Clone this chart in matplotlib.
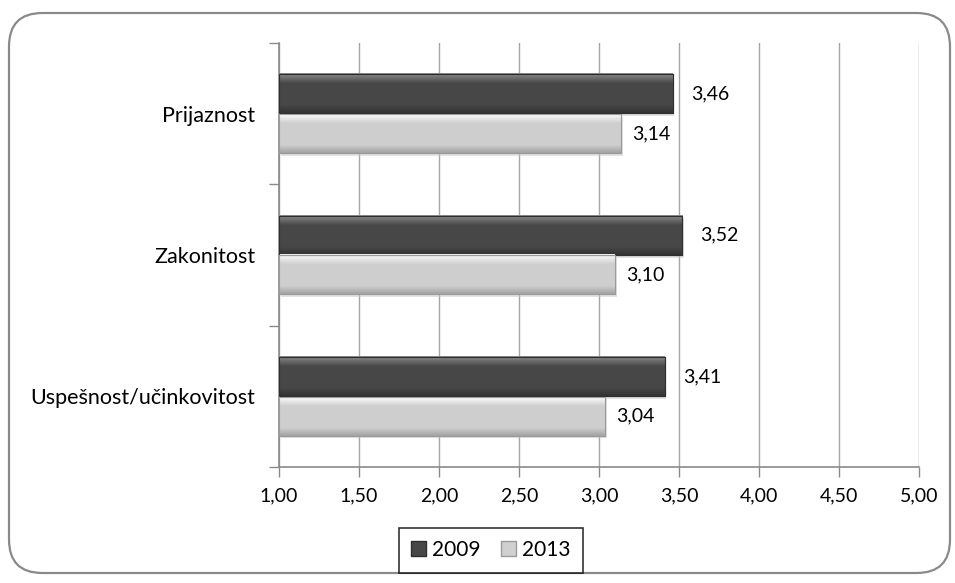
import matplotlib
matplotlib.use("Agg")
import matplotlib.pyplot as plt
from matplotlib.patches import FancyBboxPatch, Patch
import numpy as np

categories = ["Prijaznost", "Zakonitost", "Uspešnost/učinkovitost"]
vals_2009 = [3.46, 3.52, 3.41]
vals_2013 = [3.14, 3.10, 3.04]
series_names = ["2009", "2013"]
xticks = [1.0, 1.5, 2.0, 2.5, 3.0, 3.5, 4.0, 4.5, 5.0]

plt.rcParams['font.family'] = ['Lato', 'DejaVu Sans']

W, H = 955, 583
fig = plt.figure(figsize=(W/100, H/100), dpi=100)
fig.patch.set_facecolor('white')

# rounded frame
frame = FancyBboxPatch((9/W, 10/H), (950-9)/W, (570-10)/H,
                       boxstyle="round,pad=0,rounding_size=0.035",
                       transform=fig.transFigure, facecolor='none',
                       edgecolor='#8a8a8a', linewidth=1.6, mutation_aspect=W/H)
fig.patches.append(frame)

ax = fig.add_axes([279/W, 1-467/H, (919-279)/W, (467-43)/H])

n = len(categories)
y = np.arange(n)[::-1].astype(float)  # top category first
bh = 0.276
off = 0.14

c_dark, e_dark = '#474747', '#2e2e2e'
c_light, e_light = '#d0d0d0', '#9a9a9a'

base = 1.0
w09 = np.array(vals_2009) - base
w13 = np.array(vals_2013) - base

ax.set_xlim(1.0, 5.0)
ax.set_ylim(-0.5, n - 0.5)

# shadows
ax.barh(y + off - 0.02, w09, height=bh, left=base + 0.01, color='#c8c8c8', alpha=0.5, zorder=2, linewidth=0)
ax.barh(y - off - 0.02, w13, height=bh, left=base + 0.01, color='#c8c8c8', alpha=0.5, zorder=2, linewidth=0)

b1 = ax.barh(y + off, w09, height=bh, left=base, color=c_dark, edgecolor=e_dark, linewidth=0.8, zorder=3)
b2 = ax.barh(y - off, w13, height=bh, left=base, color=c_light, edgecolor=e_light, linewidth=0.8, zorder=3)

def grad(top, mid, bot):
    t = np.linspace(0, 1, 64)
    v = np.where(t < 0.25, top + (mid - top) * (t / 0.25),
                 np.where(t > 0.8, mid + (bot - mid) * ((t - 0.8) / 0.2), mid))
    img = np.zeros((64, 1, 4))
    img[:, 0, 0] = v
    img[:, 0, 1] = v
    img[:, 0, 2] = v
    img[:, 0, 3] = 1.0
    return img

for bars, g in ((b1, grad(0.55, 0.28, 0.20)), (b2, grad(1.0, 0.81, 0.64))):
    for r in bars:
        x0, y0 = r.get_x(), r.get_y()
        w, h = r.get_width(), r.get_height()
        im = ax.imshow(g, aspect='auto', extent=(x0, x0 + w, y0, y0 + h),
                       origin='upper', zorder=3.5, interpolation='bilinear')
        r2 = plt.Rectangle((x0, y0), w, h, facecolor='none', edgecolor=r.get_edgecolor(),
                           linewidth=0.8, zorder=3.6)
        ax.add_patch(r2)

ax.set_xlim(1.0, 5.0)
ax.set_ylim(-0.5, n - 0.5)
ax.set_aspect('auto')

for yi, v in zip(y + off, vals_2009):
    ax.annotate(f"{v:.2f}".replace('.', ','), (v, yi), xytext=(13, 0), textcoords='offset points',
                va='center', ha='left', fontsize=14, color='black')
for yi, v in zip(y - off, vals_2013):
    ax.annotate(f"{v:.2f}".replace('.', ','), (v, yi), xytext=(8, 0), textcoords='offset points',
                va='center', ha='left', fontsize=14, color='black')

ax.set_xticks(xticks)
ax.set_xticklabels([f"{t:.2f}".replace('.', ',') for t in xticks], fontsize=14)
ax.grid(axis='x', color='#a6a6a6', linewidth=1, zorder=0)
ax.set_axisbelow(True)

ax.set_yticks(np.arange(-0.5, n, 1.0))
ax.set_yticklabels([])
ax.set_yticks(y, minor=True)
ax.set_yticklabels(categories, minor=True, fontsize=15.5)
ax.tick_params(axis='y', which='minor', length=0, pad=17)
ax.tick_params(axis='y', which='major', length=7, color='#8a8a8a', width=1)
ax.tick_params(axis='x', length=7, color='#8a8a8a', width=1, pad=8)

for s in ['top', 'right']:
    ax.spines[s].set_visible(False)
for s in ['left', 'bottom']:
    ax.spines[s].set_color('#8a8a8a')
    ax.spines[s].set_linewidth(1.2)

handles = [Patch(facecolor=c_dark, edgecolor=e_dark), Patch(facecolor=c_light, edgecolor=e_light)]
leg = fig.legend(handles, series_names, loc='center', bbox_to_anchor=(491/W, 1-550/H),
                 ncol=2, frameon=True, fancybox=False, fontsize=15, handlelength=0.7,
                 handleheight=0.7, handletextpad=0.3, columnspacing=1.0, borderpad=0.6)
leg.get_frame().set_edgecolor('black')
leg.get_frame().set_linewidth(1.2)

fig.savefig('out.png', dpi=100)
